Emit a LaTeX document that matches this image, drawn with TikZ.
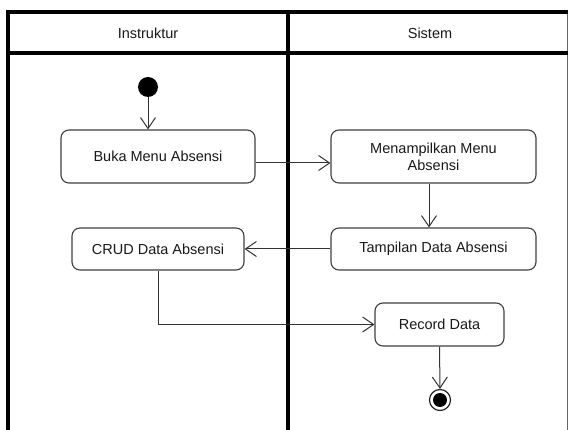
\documentclass[tikz,border=0pt]{standalone}
\usepackage{fontspec}
\setmainfont{Liberation Sans}
\usetikzlibrary{arrows.meta}
\begin{document}
\begin{tikzpicture}[x=1pt,y=-1pt,
  txt/.style={font=\fontsize{14.5}{17}\selectfont, text=black!90},
  act/.style={txt, draw=black!75, line width=1.1pt, rounded corners=8pt, align=center, inner sep=0pt},
  flow/.style={draw=black!80, line width=1pt, -{Straight Barb[length=11pt,width=15pt,line width=1pt]}},
  lane/.style={line width=4.2pt, line cap=rect}]
\useasboundingbox[fill=white] (0,0) rectangle (568,430);
% swimlanes
\draw[black!60, line width=0.8pt] (567,12) -- (567,430);
\draw[lane] (7.6,431) -- (7.6,12) -- (567,12);
\draw[lane] (7.6,53) -- (567,53);
\draw[lane] (288,12) -- (288,431);
\node[txt] (h1) at (148,33) {Instruktur};
\node[txt] (h2) at (430,33) {Sistem};
% nodes
\node[circle, fill=black, minimum size=20pt, inner sep=0pt] (start) at (148,87) {};
\node[act, minimum width=194pt, minimum height=53pt] (buka) at (158,156.5) {Buka Menu Absensi};
\node[act, minimum width=205pt, minimum height=53pt] (men) at (433.5,156.5) {Menampilkan Menu\\Absensi};
\node[act, minimum width=205pt, minimum height=42pt] (tamp) at (433.5,249) {Tampilan Data Absensi};
\node[act, minimum width=172pt, minimum height=42pt] (crud) at (158,249) {CRUD Data Absensi};
\node[act, minimum width=129pt, minimum height=43pt] (rec) at (439.5,324.5) {Record Data};
\node[circle, draw=black!85, line width=1.2pt, fill=white, minimum size=21pt, inner sep=0pt] (end) at (440,400) {};
\node[circle, fill=black, minimum size=14pt, inner sep=0pt] (endin) at (end.center) {};
% flows
\draw[flow] (start) -- (start |- buka.north);
\draw[flow] ([yshift=-6.5pt]buka.east) -- ([yshift=-6.5pt]men.west);
\draw[flow] ([xshift=-4.5pt]men.south) -- ([xshift=-4.5pt]tamp.north);
\draw[flow] (tamp.west) -- (crud.east);
\draw[flow] (crud.south) |- (rec.west);
\draw[flow] (rec.south) -- (end.north);
\end{tikzpicture}
\end{document}
